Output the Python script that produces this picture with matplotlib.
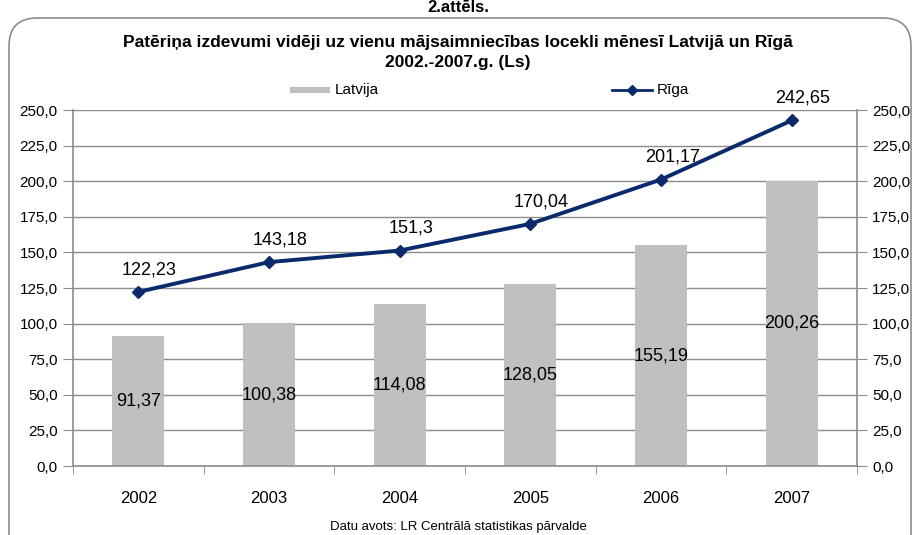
import matplotlib
matplotlib.use("Agg")
import matplotlib.pyplot as plt
from matplotlib.patches import FancyBboxPatch
from matplotlib.lines import Line2D
from matplotlib.patches import Rectangle
from matplotlib.transforms import IdentityTransform
import numpy as np

years = ["2002", "2003", "2004", "2005", "2006", "2007"]
latvija = [91.37, 100.38, 114.08, 128.05, 155.19, 200.26]
riga = [122.23, 143.18, 151.3, 170.04, 201.17, 242.65]
latvija_labels = ["91,37", "100,38", "114,08", "128,05", "155,19", "200,26"]
riga_labels = ["122,23", "143,18", "151,3", "170,04", "201,17", "242,65"]
yticks = [0, 25, 50, 75, 100, 125, 150, 175, 200, 225, 250]
ytick_labels = ["0,0", "25,0", "50,0", "75,0", "100,0", "125,0", "150,0", "175,0", "200,0", "225,0", "250,0"]

plt.rcParams["font.family"] = ["Liberation Sans", "DejaVu Sans"]

W, H = 916, 535
fig = plt.figure(figsize=(W / 100, H / 100), dpi=100)

# outer rounded frame (pixel coords, origin bottom-left)
frame = FancyBboxPatch((9, -40), 902, 557, boxstyle="round,pad=0,rounding_size=28",
                       transform=IdentityTransform(), fill=False, edgecolor="#8C8C8C", linewidth=1.2)
fig.patches.append(frame)

fig.text(458 / W, 1 - 8 / H, "2.attēls.", ha="center", va="center", fontsize=12, fontweight="bold")

ax = fig.add_axes([73 / W, 1 - 466 / H, 784 / W, 356 / H])
x = np.arange(len(years))
ax.bar(x, latvija, width=0.4, color="#C0C0C0", zorder=2)
ax.plot(x, riga, color="#0B2A6B", linewidth=2.8, marker="D", markersize=6, zorder=3)

ax.set_xlim(-0.5, len(years) - 0.5)
ax.set_ylim(0, 250)
ax.set_yticks(yticks)
ax.set_yticklabels(ytick_labels)
ax.yaxis.grid(True, color="#8C8C8C", linewidth=1)
ax.set_axisbelow(True)
ax.tick_params(axis="y", length=7, color="#8C8C8C", labelsize=11, pad=4,
               right=True, labelright=True)
ax.set_xticks(x)
ax.set_xticklabels(years)
ax.set_xticks(np.arange(-0.5, len(years)), minor=True)
ax.tick_params(axis="x", which="major", length=0, labelsize=12, pad=18)
ax.tick_params(axis="x", which="minor", length=6, color="#8C8C8C")
for s in ["left", "right", "bottom"]:
    ax.spines[s].set_color("#8C8C8C")
    ax.spines[s].set_linewidth(1.2)
ax.spines["top"].set_visible(False)

for xi, v, lab in zip(x, latvija, latvija_labels):
    ax.text(xi, v / 2, lab, ha="center", va="center", fontsize=13)
for xi, v, lab in zip(x, riga, riga_labels):
    ax.annotate(lab, (xi, v), xytext=(8, 16), textcoords="offset points",
                ha="center", va="center", fontsize=13)

fig.text(458 / W, 1 - 43 / H, "Patēriņa izdevumi vidēji uz vienu mājsaimniecības locekli mēnesī Latvijā un Rīgā",
         ha="center", va="center", fontsize=12.5, fontweight="bold")
fig.text(458 / W, 1 - 63 / H, "2002.-2007.g. (Ls)", ha="center", va="center", fontsize=12.5, fontweight="bold")

# legend
fig.patches.append(Rectangle((290 / W, 1 - 93 / H), 40 / W, 6 / H, transform=fig.transFigure,
                             facecolor="#C0C0C0", edgecolor="none"))
fig.text(335 / W, 1 - 90 / H, "Latvija", ha="left", va="center", fontsize=11)
fig.lines.append(Line2D([612 / W, 652 / W], [1 - 90 / H, 1 - 90 / H], transform=fig.transFigure,
                        color="#0B2A6B", linewidth=2))
fig.lines.append(Line2D([632 / W], [1 - 90 / H], transform=fig.transFigure, color="#0B2A6B",
                        marker="D", markersize=5))
fig.text(657 / W, 1 - 90 / H, "Rīga", ha="left", va="center", fontsize=11)

fig.text(458 / W, 1 - 527 / H, "Datu avots: LR Centrālā statistikas pārvalde", ha="center", va="center",
         fontsize=9.5)

fig.savefig("out.png", dpi=100)
